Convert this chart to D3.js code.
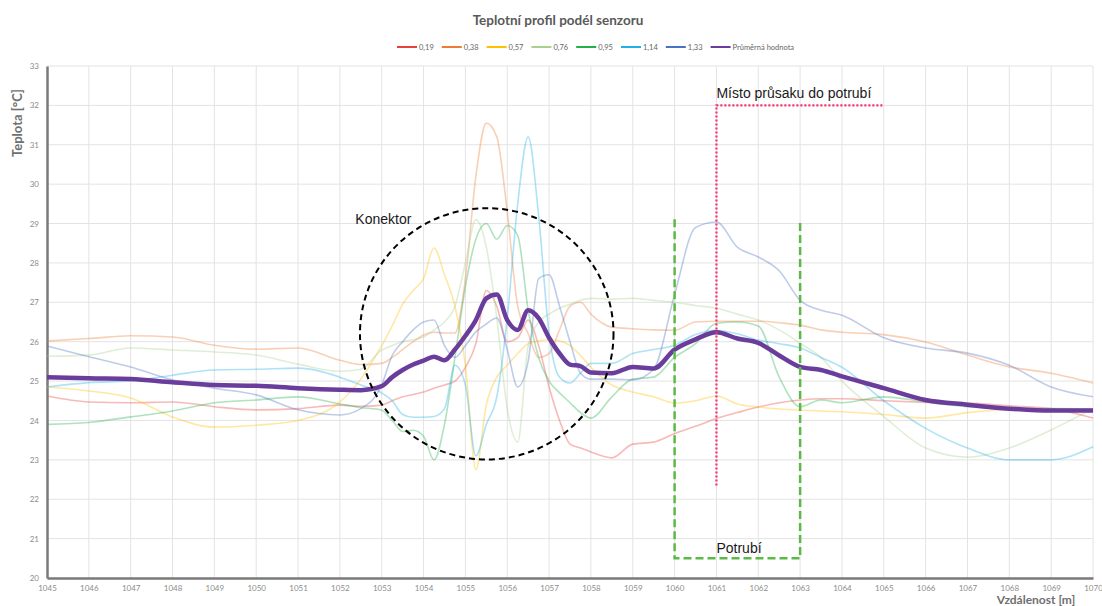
<!DOCTYPE html>
<html>
<head>
<meta charset="utf-8">
<script src="https://cdn.jsdelivr.net/npm/d3@7"></script>
<style>
  body { margin: 0; background: #fff; }
  svg { display: block; }
  .tick text { font-family: Lato, "Open Sans", sans-serif; fill: #8c8c8c; }
  .note { font-family: "Liberation Sans", Arial, sans-serif; font-size: 14px; fill: #1a1a1a; }
</style>
</head>
<body>
<div id="chart"></div>
<script>
// distance along the sensor [m]
const distance = [1045, 1046, 1047, 1048, 1049, 1050, 1051, 1052, 1052.5, 1053, 1053.25, 1053.5, 1053.75,
  1054, 1054.25, 1054.5, 1054.75, 1055, 1055.25, 1055.5, 1055.75, 1056, 1056.25, 1056.5, 1056.75,
  1057, 1057.25, 1057.5, 1057.75, 1058, 1058.5, 1059, 1059.5, 1060, 1060.5, 1061, 1061.5, 1062, 1062.5,
  1063, 1063.5, 1064, 1065, 1066, 1067, 1068, 1069, 1070];

// temperatures [°C] for every sensor depth
const t019 = [24.62, 24.47, 24.45, 24.47, 24.35, 24.27, 24.3, 24.39, 24.36, 24.39, 24.5, 24.6, 24.66,
  24.72, 24.82, 24.9, 25.0, 25.35, 25.95, 27.3, 26.9, 26.0, 26.1, 26.55, 25.9,
  24.85, 24.0, 23.4, 23.3, 23.2, 23.05, 23.4, 23.45, 23.67, 23.85, 24.05, 24.2, 24.34, 24.45,
  24.52, 24.55, 24.55, 24.5, 24.46, 24.44, 24.37, 24.3, 24.06];
const t038 = [26.02, 26.08, 26.15, 26.12, 25.91, 25.81, 25.84, 25.53, 25.42, 25.45, 25.6, 25.8, 26.0,
  26.17, 26.24, 26.22, 26.22, 27.6, 30.2, 31.55, 31.2, 29.3, 26.9, 26.2, 25.6,
  25.7, 26.3, 26.9, 27.0, 26.7, 26.37, 26.33, 26.3, 26.29, 26.5, 26.52, 26.52, 26.52, 26.48,
  26.42, 26.3, 26.24, 26.18, 25.99, 25.66, 25.36, 25.2, 24.95];
const t057 = [24.85, 24.75, 24.57, 24.09, 23.83, 23.88, 24.0, 24.47, 25.05, 25.9, 26.4, 26.95, 27.3,
  27.6, 28.38, 27.7, 26.9, 25.4, 22.75, 24.4, 25.1, 25.4, 25.7, 25.95, 26.02,
  26.05, 26.02, 25.9, 25.65, 25.35, 24.9, 24.72, 24.6, 24.44, 24.5, 24.62, 24.42, 24.34, 24.29,
  24.26, 24.24, 24.22, 24.15, 24.06, 24.2, 24.28, 24.29, 24.26];
const t076 = [25.63, 25.66, 25.84, 25.79, 25.74, 25.66, 25.43, 25.25, 25.3, 25.79, 25.9, 26.0, 26.05,
  26.12, 26.3, 26.5, 26.9, 28.0, 29.1, 28.4, 26.6, 24.3, 23.45, 25.9, 26.5,
  26.7, 26.85, 26.95, 27.05, 27.1, 27.08, 27.1, 27.05, 27.0, 26.92, 26.85, 26.7, 26.55, 26.3,
  25.96, 25.6, 25.0, 24.1, 23.3, 23.07, 23.3, 23.76, 24.3];
const t095 = [23.9, 23.95, 24.09, 24.24, 24.45, 24.52, 24.6, 24.42, 24.33, 24.26, 24.0, 23.72, 23.75,
  23.6, 23.0, 23.9, 25.6, 27.4, 28.6, 29.0, 28.6, 28.95, 28.7, 26.8, 25.6,
  25.0, 24.7, 24.45, 24.2, 24.06, 24.6, 25.05, 25.1, 25.6, 25.95, 26.47, 26.5, 26.4, 25.1,
  24.35, 24.52, 24.45, 24.6, 24.47, 24.35, 24.3, 24.3, 24.29];
const t114 = [24.85, 24.96, 25.0, 25.15, 25.28, 25.3, 25.33, 25.1, 24.9, 24.7, 24.5, 24.15, 24.08,
  24.08, 24.1, 24.3, 25.4, 24.9, 23.1, 23.9, 24.6, 26.6, 29.5, 31.2, 29.2,
  26.2, 25.1, 24.95, 25.2, 25.45, 25.45, 25.7, 25.8, 25.91, 26.18, 26.29, 26.2, 26.04, 25.95,
  25.84, 25.6, 25.35, 24.5, 23.8, 23.3, 23.0, 23.0, 23.33];
const t133 = [25.89, 25.62, 25.36, 25.03, 24.82, 24.65, 24.27, 24.14, 24.3, 24.9, 25.65, 26.0, 26.3,
  26.5, 26.55, 25.9, 25.6, 25.9, 26.25, 26.45, 26.6, 25.8, 24.85, 25.5, 27.6,
  27.7, 26.9, 26.0, 25.2, 25.05, 25.05, 25.03, 25.3, 27.2, 28.9, 29.04, 28.4, 28.15, 27.8,
  27.05, 26.8, 26.67, 26.1, 25.84, 25.71, 25.4, 24.85, 24.6];
const tAvg = [25.1, 25.07, 25.05, 24.97, 24.9, 24.88, 24.82, 24.78, 24.77, 24.87, 25.1, 25.28, 25.42,
  25.52, 25.62, 25.53, 25.8, 26.15, 26.55, 27.1, 27.2, 26.55, 26.3, 26.8, 26.6,
  26.1, 25.7, 25.42, 25.38, 25.22, 25.2, 25.36, 25.32, 25.8, 26.06, 26.24, 26.08, 25.97, 25.65,
  25.36, 25.28, 25.12, 24.82, 24.52, 24.4, 24.3, 24.25, 24.25];

const seriesNames = ["0,19", "0,38", "0,57", "0,76", "0,95", "1,14", "1,33", "Průměrná hodnota"];
const seriesValues = [t019, t038, t057, t076, t095, t114, t133, tAvg];
const seriesColors = ["#e8403a", "#ed7d31", "#ffc000", "#a9d18e", "#22b04b", "#1fb0e8", "#4a72c4", "#6a3c9c"];

const xTicks = d3.range(1045, 1071);
const yTicks = d3.range(20, 34);

// annotations (in data units)
const connector = { cx: 1055.51, cy: 26.2, rx: 3.03, ry: 3.19, label: "Konektor", lx: 1052.37, ly: 29.0 };
const pipe = { x0: 1060, x1: 1063, top0: 29.11, top1: 29.04, bottom: 20.5, label: "Potrubí", lx: 1061, ly: 20.63 };
const leak = { x: 1061, xEnd: 1065, top: 32.0, bottom: 22.35, label: "Místo průsaku do potrubí", ly: 32.2 };

const W = 1102, H = 606;
const margin = { left: 47, right: 9, top: 66, bottom: 28 };

const svg = d3.select("#chart").append("svg")
  .attr("width", W)
  .attr("height", H)
  .style("font-family", "Lato, 'Open Sans', sans-serif");

const x = d3.scaleLinear().domain([1045, 1070]).range([margin.left, W - margin.right]);
const y = d3.scaleLinear().domain([20, 33]).range([H - margin.bottom, margin.top]);

// grid
svg.append("g")
  .selectAll("line")
  .data(xTicks.slice(1))
  .enter().append("line")
  .attr("x1", d => x(d)).attr("x2", d => x(d))
  .attr("y1", y(33)).attr("y2", y(20))
  .style("stroke", "#e3e3e3").style("stroke-width", 1);

svg.append("g")
  .selectAll("line")
  .data(yTicks.slice(1))
  .enter().append("line")
  .attr("x1", x(1045)).attr("x2", x(1070))
  .attr("y1", d => y(d)).attr("y2", d => y(d))
  .style("stroke", "#e3e3e3").style("stroke-width", 1);

// axes
const xAxis = svg.append("g")
  .attr("transform", `translate(0,${y(20)})`)
  .call(d3.axisBottom(x).tickValues(xTicks).tickFormat(d3.format("d")).tickSize(0).tickPadding(7));
xAxis.selectAll("text").style("font-size", "8px");
xAxis.select(".domain").style("stroke", "#7a7a7a").style("stroke-width", 2.5);

const yAxis = svg.append("g")
  .attr("transform", `translate(${x(1045)},0)`)
  .call(d3.axisLeft(y).tickValues(yTicks).tickFormat(d3.format("d")).tickSize(0).tickPadding(8));
yAxis.selectAll("text").style("font-size", "8px");
yAxis.select(".domain").style("stroke", "#7a7a7a").style("stroke-width", 2.5);

// lines
const line = d3.line().curve(d3.curveMonotoneX);

seriesValues.forEach((vals, i) => {
  const pts = distance.map((d, j) => [x(d), y(vals[j])]);
  const isAvg = i === seriesValues.length - 1;
  svg.append("path")
    .attr("d", line(pts))
    .style("fill", "none")
    .style("stroke", seriesColors[i])
    .style("stroke-width", isAvg ? 4.5 : 1.6)
    .style("stroke-opacity", isAvg ? 1 : 0.36)
    .style("stroke-linejoin", "round");
});

// connector ellipse
svg.append("ellipse")
  .attr("cx", x(connector.cx)).attr("cy", y(connector.cy))
  .attr("rx", x(connector.cx + connector.rx) - x(connector.cx))
  .attr("ry", y(connector.cy) - y(connector.cy + connector.ry))
  .style("fill", "none").style("stroke", "#000").style("stroke-width", 2)
  .style("stroke-dasharray", "6,4");
svg.append("text").attr("class", "note")
  .attr("x", x(connector.lx)).attr("y", y(connector.ly))
  .text(connector.label);

// pipe bracket
svg.append("path")
  .attr("d", `M${x(pipe.x0)},${y(pipe.top0)} L${x(pipe.x0)},${y(pipe.bottom)} L${x(pipe.x1)},${y(pipe.bottom)} L${x(pipe.x1)},${y(pipe.top1)}`)
  .style("fill", "none").style("stroke", "#5cb946").style("stroke-width", 2.5)
  .style("stroke-dasharray", "8,4");
svg.append("text").attr("class", "note")
  .attr("x", x(pipe.lx)).attr("y", y(pipe.ly))
  .text(pipe.label);

// leak marker
svg.append("path")
  .attr("d", `M${x(leak.x)},${y(leak.bottom)} L${x(leak.x)},${y(leak.top)} L${x(leak.xEnd)},${y(leak.top)}`)
  .style("fill", "none").style("stroke", "#f5306a").style("stroke-width", 2.2)
  .style("stroke-dasharray", "2,2");
svg.append("text").attr("class", "note")
  .attr("x", x(leak.x)).attr("y", y(leak.ly))
  .text(leak.label);

// title
svg.append("text")
  .attr("x", 558).attr("y", 25)
  .attr("text-anchor", "middle")
  .style("font-size", "13.5px").style("font-weight", "bold").style("fill", "#595959")
  .text("Teplotní profil podél senzoru");

// legend
const legend = svg.append("g").attr("transform", "translate(397,47)");
const item = legend.selectAll("g")
  .data(seriesNames)
  .enter().append("g")
  .attr("transform", (d, i) => `translate(${i * 44.8},0)`);
item.append("line")
  .attr("x1", 0).attr("x2", 20).attr("y1", 0).attr("y2", 0)
  .style("stroke", (d, i) => seriesColors[i]).style("stroke-width", 2);
item.append("text")
  .attr("x", 22).attr("y", 2.6)
  .style("font-size", "7.5px").style("fill", "#666")
  .text(d => d);

// axis titles
svg.append("text")
  .attr("transform", "translate(22,123) rotate(-90)")
  .attr("text-anchor", "middle")
  .style("font-size", "13px").style("font-weight", "bold").style("fill", "#6f6f6f")
  .text("Teplota [°C]");
svg.append("text")
  .attr("x", 1036).attr("y", 604)
  .attr("text-anchor", "middle")
  .style("font-size", "12px").style("font-weight", "bold").style("fill", "#6f6f6f")
  .text("Vzdálenost [m]");
</script>
</body>
</html>
